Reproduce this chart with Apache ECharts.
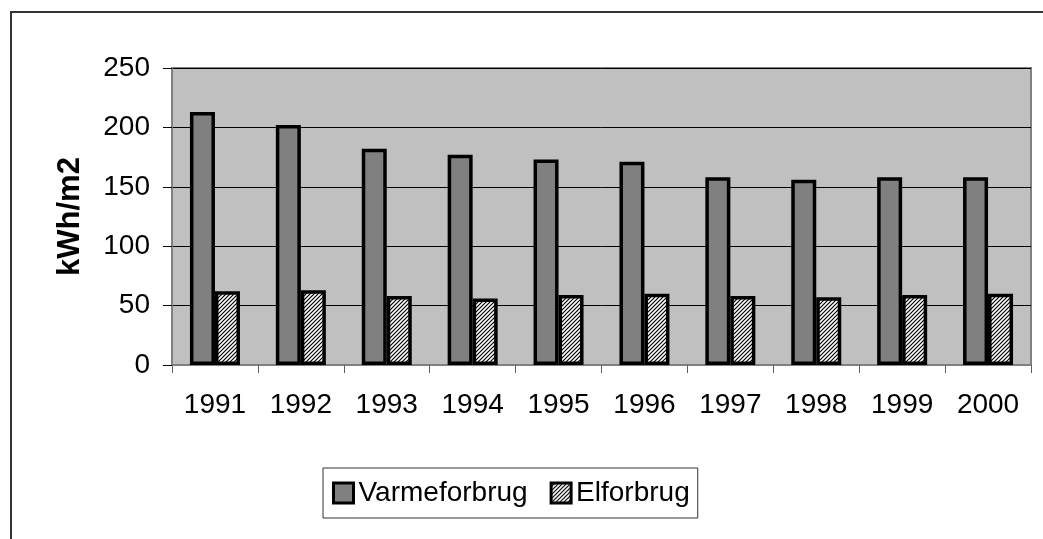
<!DOCTYPE html>
<html>
<head>
<meta charset="utf-8">
<script src="https://cdn.jsdelivr.net/npm/echarts@6/dist/echarts.min.js"></script>
<style>
  html, body { margin: 0; padding: 0; background: #fff; }
  #chart { width: 1043px; height: 539px; }
</style>
</head>
<body>
<div id="chart"></div>
<script>
const years = ['1991', '1992', '1993', '1994', '1995', '1996', '1997', '1998', '1999', '2000'];
const varmeforbrug = [213, 202, 182, 177, 173, 171, 158, 156, 158, 158];
const elforbrug = [62, 63, 58, 56, 59, 60, 58, 57, 59, 60];

// diagonal hatch like the old office fill
function hatch() {
  const c = document.createElement('canvas');
  c.width = 4; c.height = 4;
  const ctx = c.getContext('2d');
  ctx.fillStyle = '#fff';
  ctx.fillRect(0, 0, 4, 4);
  ctx.strokeStyle = '#000';
  ctx.lineWidth = 1.2;
  ctx.beginPath();
  ctx.moveTo(-1, 5); ctx.lineTo(5, -1);
  ctx.moveTo(-1, 1); ctx.lineTo(1, -1);
  ctx.moveTo(3, 5); ctx.lineTo(5, 3);
  ctx.stroke();
  return { image: c, repeat: 'repeat' };
}

const FONT = 'Liberation Sans, Arial, sans-serif';
const chart = echarts.init(document.getElementById('chart'), null, { renderer: 'canvas' });

chart.setOption({
  animation: false,
  backgroundColor: '#fff',
  textStyle: { fontFamily: FONT },
  graphic: [{
    type: 'rect', silent: true, z: -1,
    shape: { x: 11, y: 12, width: 1200, height: 700 },
    style: { fill: null, stroke: '#333', lineWidth: 2 }
  }],
  grid: {
    left: 172, right: 12, top: 68, bottom: 174,
    show: true, backgroundColor: '#c0c0c0',
    borderColor: '#808080', borderWidth: 2
  },
  legend: {
    left: 323, top: 468,
    padding: [11, 8, 11, 9],
    borderColor: '#333', borderWidth: 1,
    itemWidth: 20, itemHeight: 20, itemGap: 22,
    icon: 'rect',
    itemStyle: { borderColor: '#000', borderWidth: 3 },
    textStyle: { fontSize: 28, color: '#000', fontFamily: FONT },
    data: ['Varmeforbrug', 'Elforbrug']
  },
  xAxis: {
    type: 'category',
    data: years,
    axisLine: { lineStyle: { color: '#808080', width: 2 } },
    axisTick: { show: true, length: 8, alignWithLabel: false, lineStyle: { color: '#606060' } },
    axisLabel: { fontSize: 28, color: '#000', margin: 26, fontFamily: FONT }
  },
  yAxis: {
    type: 'value',
    min: 0, max: 250, interval: 50,
    name: 'kWh/m2',
    nameLocation: 'middle',
    nameGap: 86,
    nameTextStyle: { fontSize: 31, fontWeight: 'bold', color: '#000', fontFamily: FONT },
    axisLine: { show: true, lineStyle: { color: '#808080', width: 2 } },
    axisTick: { show: true, length: 9, lineStyle: { color: '#000' } },
    axisLabel: { fontSize: 28, color: '#000', margin: 22, fontFamily: FONT },
    splitLine: { lineStyle: { color: '#000', width: 1 } }
  },
  series: [
    {
      name: 'Varmeforbrug', type: 'bar', data: varmeforbrug,
      barWidth: 25, barGap: '0%',
      itemStyle: { color: '#808080', borderColor: '#000', borderWidth: 3.5 }
    },
    {
      name: 'Elforbrug', type: 'bar', data: elforbrug,
      barWidth: 25, barGap: '0%',
      itemStyle: { color: hatch(), borderColor: '#000', borderWidth: 3.5 }
    }
  ]
});
</script>
</body>
</html>
